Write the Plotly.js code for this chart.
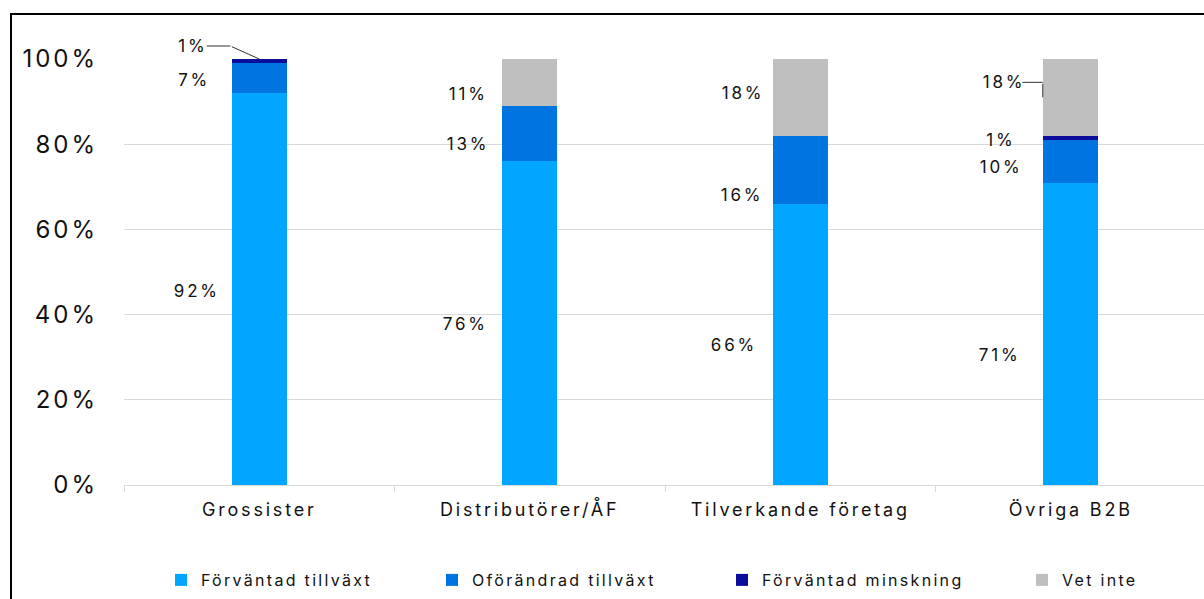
<!DOCTYPE html>
<html><head><meta charset="utf-8">
<script src="https://cdn.plot.ly/plotly-3.0.1.min.js"></script>
<style>
html,body{margin:0;padding:0;background:#fff;overflow:hidden;width:1204px;height:599px;}
#frame{position:absolute;left:10px;top:13px;border:2px solid #000;width:1400px;height:640px;}
#chart{width:1400px;height:640px;}
#chart .xtick text{letter-spacing:2.8px;}
#chart .ytick text{letter-spacing:3px;}
#chart .infolayer g[class^="legend"] text{letter-spacing:2.3px;}
#chart .annotation-text{letter-spacing:2.8px;}
</style></head>
<body><div id="frame"><div id="chart"></div></div>
<script>
const categories = ['Grossister', 'Distributörer/ÅF', 'Tilverkande företag', 'Övriga B2B'];
const seriesNames = ['Förväntad tillväxt', 'Oförändrad tillväxt', 'Förväntad minskning', 'Vet inte'];
const forvantadTillvaxt = [92, 76, 66, 71];
const oforandradTillvaxt = [7, 13, 16, 10];
const forvantadMinskning = [1, 0, 0, 1];
const vetInte = [0, 11, 18, 18];
const yTickVals = [0, 20, 40, 60, 80, 100];
const yTickText = ['0%', '20%', '40%', '60%', '80%', '100%'];

const seriesValues = [forvantadTillvaxt, oforandradTillvaxt, forvantadMinskning, vetInte];
const colors = ['#00A6FF', '#0074E0', '#0A0D9C', '#BFBFBF'];
// pixel nudges for value labels [series][category]
const labelYShift = [[-2, -1, -1, -21], [-2, -10, -25, -6], [0, 0, 0, -2], [0, -12, 4, 0]];
const labelXShift = [[-62, -64, -66, -71], [-65, -62, -58, -70], [0, 0, 0, -70], [0, -61, -57, 0]];
// one legend box per series, left edges in container pixels
const legendLeft = [149, 420, 710, 1010];
const legendIds = ['legend', 'legend2', 'legend3', 'legend4'];

const FONT = 'Inter, "Liberation Sans", Arial, sans-serif';
const W = 1400, H = 640;
const traces = seriesValues.map((vals, i) => ({
  type: 'bar', name: seriesNames[i], x: categories, y: vals,
  marker: {color: colors[i], line: {width: 0}}, width: 0.205,
  legend: legendIds[i], hoverinfo: 'skip'
}));

const lbl = {family: FONT, size: 17, color: '#111'};
const leader = {showarrow: true, arrowhead: 0, arrowwidth: 1, arrowcolor: '#333', standoff: 0, xref: 'x', yref: 'y'};
const annotations = [];
categories.forEach((cat, c) => {
  let cum = 0;
  seriesValues.forEach((vals, s) => {
    const v = vals[c];
    if (v > 0) {
      const mid = cum + v / 2;
      if (c === 0 && s === 2) {
        // label with elbow leader to the top of the bar
        annotations.push(Object.assign({}, leader, {x: cat, y: cum + v, text: v + '%', font: lbl,
          xshift: -29, yshift: 13, ax: -37, ay: 0}));
        annotations.push(Object.assign({}, leader, {x: cat, y: cum + v, text: '',
          ax: -29, ay: -13}));
      } else if (c === 3 && s === 3) {
        annotations.push(Object.assign({}, leader, {x: cat, y: mid, text: v + '%', font: lbl,
          xshift: -28, yshift: 15, ax: -39, ay: 0}));
        annotations.push(Object.assign({}, leader, {x: cat, y: mid, text: '',
          xshift: -28, ax: 0, ay: -15}));
      } else {
        annotations.push({x: cat, y: mid, xref: 'x', yref: 'y', text: v + '%', font: lbl,
          showarrow: false, xshift: labelXShift[s][c], yshift: labelYShift[s][c]});
      }
    }
    cum += v;
  });
});

const layout = {
  width: W, height: H,
  margin: {l: 112, r: 206, t: 44, b: 170},
  barmode: 'stack',
  paper_bgcolor: '#fff', plot_bgcolor: '#fff',
  font: {family: FONT, color: '#111'},
  xaxis: {range: [-0.5, 3.5], tickson: 'boundaries', ticks: 'outside', ticklen: 6,
    tickcolor: '#d9d9d9', showline: true, linecolor: '#d9d9d9', linewidth: 1,
    showgrid: false, tickfont: {family: FONT, size: 18, color: '#111'}, ticklabelstandoff: 8},
  yaxis: {range: [0, 100], tickvals: yTickVals, ticktext: yTickText, showgrid: true,
    gridcolor: '#d9d9d9', gridwidth: 1, zeroline: false, showline: false,
    tickfont: {family: FONT, size: 24, color: '#111'}, ticklabelstandoff: 25},
  showlegend: true,
  annotations: annotations,
  bargap: 0
};
legendIds.forEach((id, i) => {
  layout[id] = {orientation: 'h', xref: 'container', yref: 'container',
    x: legendLeft[i] / W, y: 75 / H, yanchor: 'middle', xanchor: 'left', itemwidth: 30,
    entrywidth: 230, font: {family: FONT, size: 16, color: '#111'}, bgcolor: 'rgba(0,0,0,0)'};
});
Plotly.newPlot('chart', traces, layout, {displayModeBar: false, staticPlot: true});
</script></body></html>
